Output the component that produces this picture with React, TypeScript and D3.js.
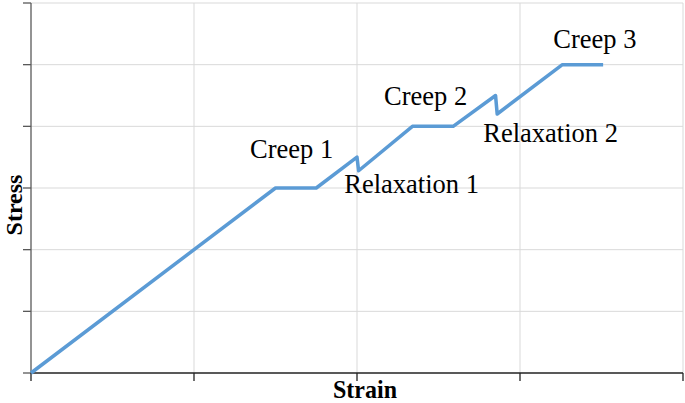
import React from "react";
import * as d3 from "d3";

const strain = [0, 1.5, 1.75, 2.0, 2.01, 2.34, 2.59, 2.85, 2.86, 3.26, 3.51];
const stress = [0, 3, 3, 3.5, 3.28, 4, 4, 4.5, 4.2, 5, 5];
const xTicks = [0, 1, 2, 3, 4];
const yTicks = [0, 1, 2, 3, 4, 5, 6];
const labelTexts = ["Creep 1", "Relaxation 1", "Creep 2", "Relaxation 2", "Creep 3"];
const labelX = [1.344, 1.922, 2.166, 2.775, 3.204];
const labelY = [3.486, 2.924, 4.346, 3.751, 5.265];

const W = 685;
const H = 403;
const M = { left: 31, right: 2, top: 3, bottom: 30 };

export default function App() {
  const x = d3.scaleLinear().domain([0, 4]).range([M.left, W - M.right]);
  const y = d3.scaleLinear().domain([0, 6]).range([H - M.bottom, M.top]);
  const pts: [number, number][] = strain.map((s, i) => [s, stress[i]]);
  const line = d3
    .line<[number, number]>()
    .x((d) => x(d[0]))
    .y((d) => y(d[1]));
  const serif = "'Liberation Serif', 'Times New Roman', serif";
  return (
    <svg
      width={W}
      height={H}
      style={{ position: "absolute", left: 0, top: 0, background: "#fff" }}
    >
      {yTicks.slice(1).map((t) => (
        <line key={"gy" + t} x1={x(0)} x2={x(4)} y1={y(t)} y2={y(t)} stroke="#d9d9d9" strokeWidth={1} />
      ))}
      {xTicks.slice(1).map((t) => (
        <line key={"gx" + t} x1={x(t)} x2={x(t)} y1={y(0)} y2={y(6)} stroke="#d9d9d9" strokeWidth={1} />
      ))}
      <line x1={x(0)} x2={x(0)} y1={y(0)} y2={y(6)} stroke="#595959" strokeWidth={1.3} />
      {yTicks.map((t) => (
        <line key={"ty" + t} x1={x(0) - 8} x2={x(0)} y1={y(t)} y2={y(t)} stroke="#595959" strokeWidth={1.3} />
      ))}
      <line x1={x(0)} x2={x(4)} y1={y(0)} y2={y(0)} stroke="#222" strokeWidth={1.5} />
      {xTicks.map((t) => (
        <line key={"tx" + t} x1={x(t)} x2={x(t)} y1={y(0)} y2={y(0) + 8} stroke="#222" strokeWidth={1.3} />
      ))}
      <path d={line(pts) || ""} fill="none" stroke="#5b9bd5" strokeWidth={3.5} strokeLinejoin="round" />
      {labelTexts.map((t, i) => (
        <text
          key={t}
          transform={`translate(${x(labelX[i])},${y(labelY[i])}) scale(1,1.06)`}
          fontFamily={serif}
          fontSize={26.5}
          fill="#000"
        >
          {t}
        </text>
      ))}
      <text
        transform={`translate(365,398) scale(1,1.08)`}
        textAnchor="middle"
        fontFamily={serif}
        fontWeight="bold"
        fontSize={24}
        fill="#000"
      >
        Strain
      </text>
      <text
        transform={`translate(22,205) rotate(-90)`}
        textAnchor="middle"
        fontFamily={serif}
        fontWeight="bold"
        fontSize={24}
        fill="#000"
      >
        Stress
      </text>
    </svg>
  );
}
